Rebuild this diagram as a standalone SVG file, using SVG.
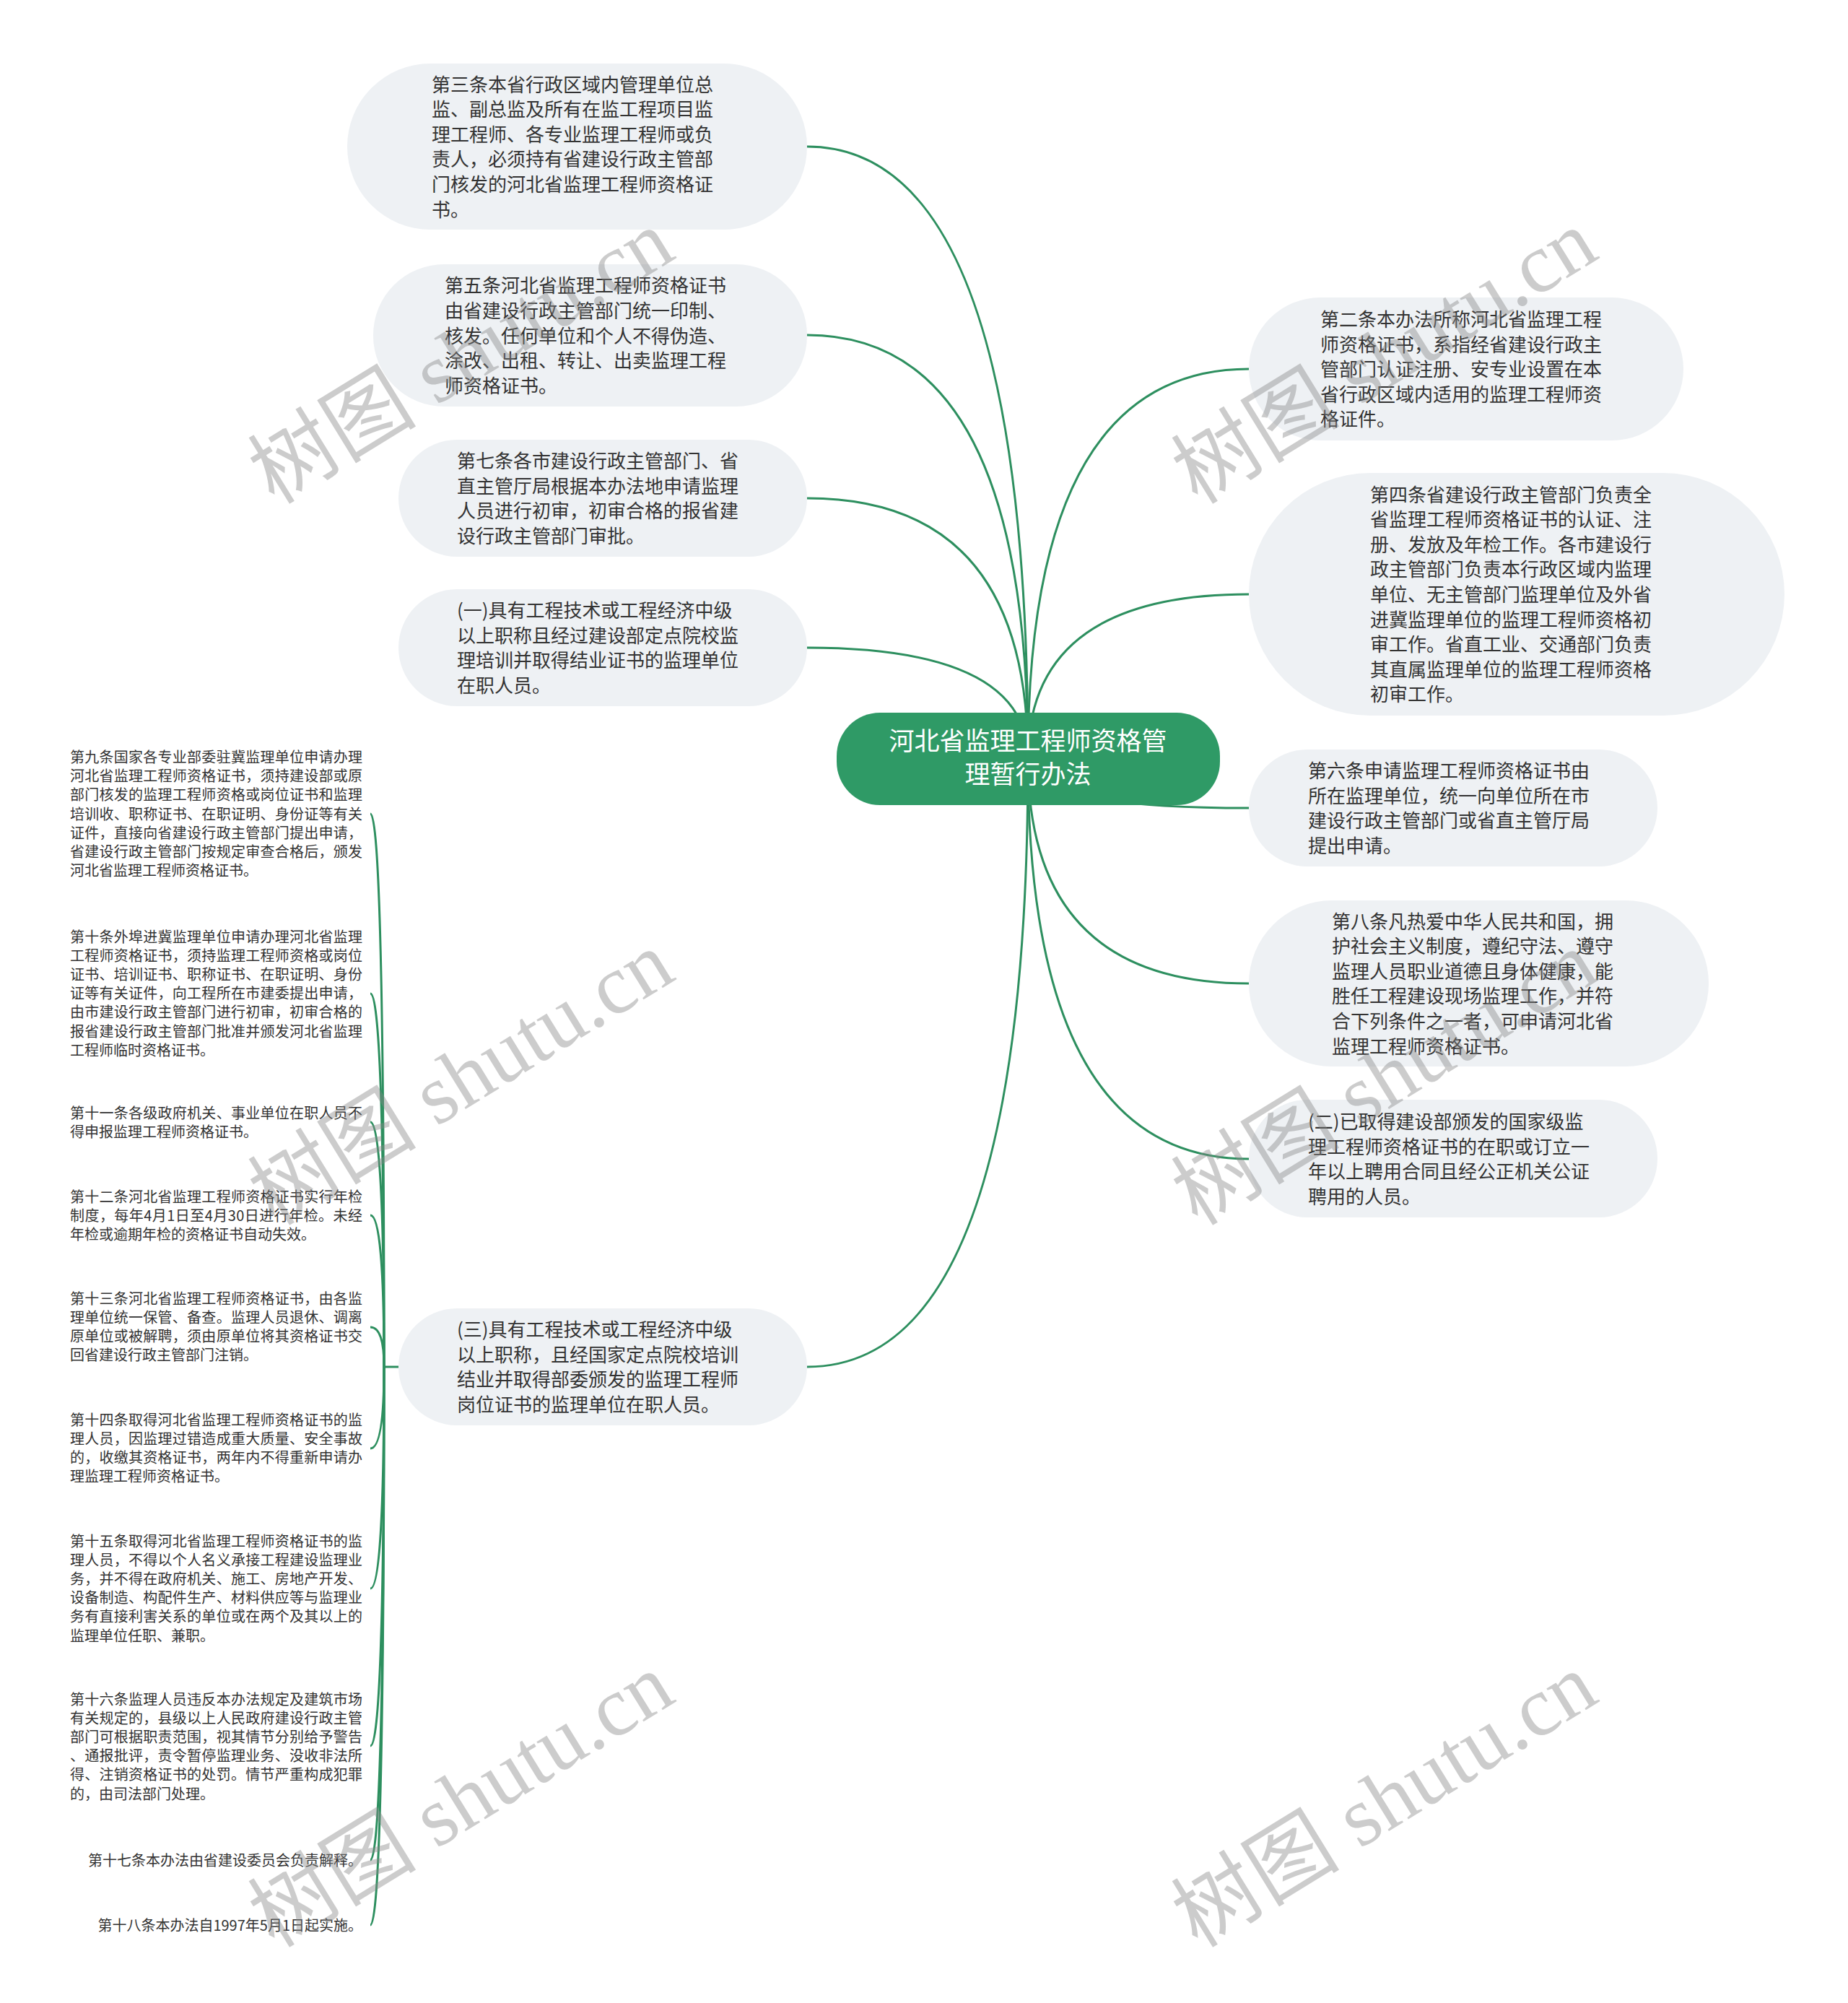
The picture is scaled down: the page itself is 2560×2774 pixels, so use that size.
<svg xmlns="http://www.w3.org/2000/svg" width="2560" height="2774" viewBox="0 0 2560 2774">
<style>
.n{fill:#eef1f4}
.t{font-family:"Noto Sans CJK SC","Liberation Sans",sans-serif;font-size:26px;fill:#333}
.s{font-size:20px}
.c{font-family:"Noto Sans CJK SC","Liberation Sans",sans-serif;font-size:35px;fill:#fff}
.e{fill:none;stroke:#2d8f5f;stroke-width:3}
.w{font-family:"Liberation Serif","Noto Sans CJK SC",serif;font-size:117px;fill:#888;opacity:0.42}
</style>
<rect width="2560" height="2774" fill="#fff"/>
<g id="connectors">
<path class="e" d="M1424 1051 Q1424 203 1118 203"/>
<path class="e" d="M1424 1051 Q1424 464 1118 464"/>
<path class="e" d="M1424 1051 Q1424 690 1118 690"/>
<path class="e" d="M1424 1051 Q1424 897 1118 897"/>
<path class="e" d="M1424 1051 Q1424 1893 1118 1893"/>
<path class="e" d="M1424 1051 Q1424 511 1730 511"/>
<path class="e" d="M1424 1051 Q1424 823 1730 823"/>
<path class="e" d="M1424 1051 Q1424 1119 1730 1119"/>
<path class="e" d="M1424 1051 Q1424 1362 1730 1362"/>
<path class="e" d="M1424 1051 Q1424 1605 1730 1605"/>
<path class="e" d="M552 1893 L532 1893"/>
<path class="e" d="M532 1893 Q532 1127 513 1127"/>
<path class="e" d="M532 1893 Q532 1376 513 1376"/>
<path class="e" d="M532 1893 Q532 1554 513 1554"/>
<path class="e" d="M532 1893 Q532 1683 513 1683"/>
<path class="e" d="M532 1893 Q532 1838 513 1838"/>
<path class="e" d="M532 1893 Q532 2006 513 2006"/>
<path class="e" d="M532 1893 Q532 2200 513 2200"/>
<path class="e" d="M532 1893 Q532 2418 513 2418"/>
<path class="e" d="M532 1893 Q532 2576 513 2576"/>
<path class="e" d="M532 1893 Q532 2666 513 2666"/>
</g>
<g id="root">
<rect x="1159" y="987" width="531" height="128" rx="60" fill="#2f9a66"/>
<text class="c" text-anchor="middle"><tspan x="1424" y="1039">河北省监理工程师资格管</tspan><tspan x="1424" y="1085">理暂行办法</tspan></text>
</g>
<g id="n3">
<rect class="n" x="481" y="88" width="637" height="230" rx="115"/>
<text class="t"><tspan x="598" y="126.5">第三条本省行政区域内管理单位总</tspan><tspan x="598" y="161.1">监、副总监及所有在监工程项目监</tspan><tspan x="598" y="195.7">理工程师、各专业监理工程师或负</tspan><tspan x="598" y="230.3">责人，必须持有省建设行政主管部</tspan><tspan x="598" y="264.9">门核发的河北省监理工程师资格证</tspan><tspan x="598" y="299.5">书。</tspan></text>
</g>
<g id="n5">
<rect class="n" x="517" y="366" width="601" height="197" rx="98"/>
<text class="t"><tspan x="616" y="405.3">第五条河北省监理工程师资格证书</tspan><tspan x="616" y="439.9">由省建设行政主管部门统一印制、</tspan><tspan x="616" y="474.5">核发。任何单位和个人不得伪造、</tspan><tspan x="616" y="509.1">涂改、出租、转让、出卖监理工程</tspan><tspan x="616" y="543.7">师资格证书。</tspan></text>
</g>
<g id="n7">
<rect class="n" x="552" y="609" width="566" height="162" rx="81"/>
<text class="t"><tspan x="633" y="648">第七条各市建设行政主管部门、省</tspan><tspan x="633" y="682.6">直主管厅局根据本办法地申请监理</tspan><tspan x="633" y="717.2">人员进行初审，初审合格的报省建</tspan><tspan x="633" y="751.8">设行政主管部门审批。</tspan></text>
</g>
<g id="c1">
<rect class="n" x="552" y="816" width="566" height="162" rx="81"/>
<text class="t"><tspan x="633" y="855">(一)具有工程技术或工程经济中级</tspan><tspan x="633" y="889.6">以上职称且经过建设部定点院校监</tspan><tspan x="633" y="924.2">理培训并取得结业证书的监理单位</tspan><tspan x="633" y="958.8">在职人员。</tspan></text>
</g>
<g id="c3">
<rect class="n" x="552" y="1812" width="566" height="162" rx="81"/>
<text class="t"><tspan x="633" y="1851">(三)具有工程技术或工程经济中级</tspan><tspan x="633" y="1885.6">以上职称，且经国家定点院校培训</tspan><tspan x="633" y="1920.2">结业并取得部委颁发的监理工程师</tspan><tspan x="633" y="1954.8">岗位证书的监理单位在职人员。</tspan></text>
</g>
<g id="n2">
<rect class="n" x="1730" y="412" width="602" height="198" rx="99"/>
<text class="t"><tspan x="1829" y="452">第二条本办法所称河北省监理工程</tspan><tspan x="1829" y="486.6">师资格证书，系指经省建设行政主</tspan><tspan x="1829" y="521.2">管部门认证注册、安专业设置在本</tspan><tspan x="1829" y="555.8">省行政区域内适用的监理工程师资</tspan><tspan x="1829" y="590.4">格证件。</tspan></text>
</g>
<g id="n4">
<rect class="n" x="1730" y="655" width="742" height="336" rx="168"/>
<text class="t"><tspan x="1898" y="694.6">第四条省建设行政主管部门负责全</tspan><tspan x="1898" y="729.2">省监理工程师资格证书的认证、注</tspan><tspan x="1898" y="763.8">册、发放及年检工作。各市建设行</tspan><tspan x="1898" y="798.4">政主管部门负责本行政区域内监理</tspan><tspan x="1898" y="833">单位、无主管部门监理单位及外省</tspan><tspan x="1898" y="867.6">进冀监理单位的监理工程师资格初</tspan><tspan x="1898" y="902.2">审工作。省直工业、交通部门负责</tspan><tspan x="1898" y="936.8">其直属监理单位的监理工程师资格</tspan><tspan x="1898" y="971.4">初审工作。</tspan></text>
</g>
<g id="n6">
<rect class="n" x="1730" y="1038" width="566" height="162" rx="81"/>
<text class="t"><tspan x="1812" y="1077">第六条申请监理工程师资格证书由</tspan><tspan x="1812" y="1111.6">所在监理单位，统一向单位所在市</tspan><tspan x="1812" y="1146.2">建设行政主管部门或省直主管厅局</tspan><tspan x="1812" y="1180.8">提出申请。</tspan></text>
</g>
<g id="n8">
<rect class="n" x="1730" y="1247" width="637" height="230" rx="115"/>
<text class="t"><tspan x="1845" y="1285.5">第八条凡热爱中华人民共和国，拥</tspan><tspan x="1845" y="1320.1">护社会主义制度，遵纪守法、遵守</tspan><tspan x="1845" y="1354.7">监理人员职业道德且身体健康，能</tspan><tspan x="1845" y="1389.3">胜任工程建设现场监理工作，并符</tspan><tspan x="1845" y="1423.9">合下列条件之一者，可申请河北省</tspan><tspan x="1845" y="1458.5">监理工程师资格证书。</tspan></text>
</g>
<g id="c2">
<rect class="n" x="1730" y="1523" width="566" height="163" rx="81"/>
<text class="t"><tspan x="1812" y="1563">(二)已取得建设部颁发的国家级监</tspan><tspan x="1812" y="1597.6">理工程师资格证书的在职或订立一</tspan><tspan x="1812" y="1632.2">年以上聘用合同且经公正机关公证</tspan><tspan x="1812" y="1666.8">聘用的人员。</tspan></text>
</g>
<g id="a9">
<text class="t s"><tspan x="97" y="1055.6" textLength="405" lengthAdjust="spacing">第九条国家各专业部委驻冀监理单位申请办理</tspan><tspan x="97" y="1081.9" textLength="405" lengthAdjust="spacing">河北省监理工程师资格证书，须持建设部或原</tspan><tspan x="97" y="1108.2" textLength="405" lengthAdjust="spacing">部门核发的监理工程师资格或岗位证书和监理</tspan><tspan x="97" y="1134.5" textLength="405" lengthAdjust="spacing">培训收、职称证书、在职证明、身份证等有关</tspan><tspan x="97" y="1160.8" textLength="405" lengthAdjust="spacing">证件，直接向省建设行政主管部门提出申请，</tspan><tspan x="97" y="1187.1" textLength="405" lengthAdjust="spacing">省建设行政主管部门按规定审查合格后，颁发</tspan><tspan x="97" y="1213.4">河北省监理工程师资格证书。</tspan></text>
</g>
<g id="a10">
<text class="t s"><tspan x="97" y="1304.6" textLength="405" lengthAdjust="spacing">第十条外埠进冀监理单位申请办理河北省监理</tspan><tspan x="97" y="1330.8" textLength="405" lengthAdjust="spacing">工程师资格证书，须持监理工程师资格或岗位</tspan><tspan x="97" y="1357" textLength="405" lengthAdjust="spacing">证书、培训证书、职称证书、在职证明、身份</tspan><tspan x="97" y="1383.2" textLength="405" lengthAdjust="spacing">证等有关证件，向工程所在市建委提出申请，</tspan><tspan x="97" y="1409.4" textLength="405" lengthAdjust="spacing">由市建设行政主管部门进行初审，初审合格的</tspan><tspan x="97" y="1435.6" textLength="405" lengthAdjust="spacing">报省建设行政主管部门批准并颁发河北省监理</tspan><tspan x="97" y="1461.8">工程师临时资格证书。</tspan></text>
</g>
<g id="a11">
<text class="t s"><tspan x="97" y="1548.6" textLength="405" lengthAdjust="spacing">第十一条各级政府机关、事业单位在职人员不</tspan><tspan x="97" y="1574.8">得申报监理工程师资格证书。</tspan></text>
</g>
<g id="a12">
<text class="t s"><tspan x="97" y="1664.6" textLength="405" lengthAdjust="spacing">第十二条河北省监理工程师资格证书实行年检</tspan><tspan x="97" y="1690.8" textLength="405" lengthAdjust="spacing">制度，每年4月1日至4月30日进行年检。未经</tspan><tspan x="97" y="1717">年检或逾期年检的资格证书自动失效。</tspan></text>
</g>
<g id="a13">
<text class="t s"><tspan x="97" y="1805.6" textLength="405" lengthAdjust="spacing">第十三条河北省监理工程师资格证书，由各监</tspan><tspan x="97" y="1831.8" textLength="405" lengthAdjust="spacing">理单位统一保管、备查。监理人员退休、调离</tspan><tspan x="97" y="1858" textLength="405" lengthAdjust="spacing">原单位或被解聘，须由原单位将其资格证书交</tspan><tspan x="97" y="1884.2">回省建设行政主管部门注销。</tspan></text>
</g>
<g id="a14">
<text class="t s"><tspan x="97" y="1973.6" textLength="405" lengthAdjust="spacing">第十四条取得河北省监理工程师资格证书的监</tspan><tspan x="97" y="1999.8" textLength="405" lengthAdjust="spacing">理人员，因监理过错造成重大质量、安全事故</tspan><tspan x="97" y="2026" textLength="405" lengthAdjust="spacing">的，收缴其资格证书，两年内不得重新申请办</tspan><tspan x="97" y="2052.2">理监理工程师资格证书。</tspan></text>
</g>
<g id="a15">
<text class="t s"><tspan x="97" y="2141.6" textLength="405" lengthAdjust="spacing">第十五条取得河北省监理工程师资格证书的监</tspan><tspan x="97" y="2167.8" textLength="405" lengthAdjust="spacing">理人员，不得以个人名义承接工程建设监理业</tspan><tspan x="97" y="2194" textLength="405" lengthAdjust="spacing">务，并不得在政府机关、施工、房地产开发、</tspan><tspan x="97" y="2220.2" textLength="405" lengthAdjust="spacing">设备制造、构配件生产、材料供应等与监理业</tspan><tspan x="97" y="2246.4" textLength="405" lengthAdjust="spacing">务有直接利害关系的单位或在两个及其以上的</tspan><tspan x="97" y="2272.6">监理单位任职、兼职。</tspan></text>
</g>
<g id="a16">
<text class="t s"><tspan x="97" y="2360.6" textLength="405" lengthAdjust="spacing">第十六条监理人员违反本办法规定及建筑市场</tspan><tspan x="97" y="2386.8" textLength="405" lengthAdjust="spacing">有关规定的，县级以上人民政府建设行政主管</tspan><tspan x="97" y="2413" textLength="405" lengthAdjust="spacing">部门可根据职责范围，视其情节分别给予警告</tspan><tspan x="97" y="2439.2" textLength="405" lengthAdjust="spacing">、通报批评，责令暂停监理业务、没收非法所</tspan><tspan x="97" y="2465.4" textLength="405" lengthAdjust="spacing">得、注销资格证书的处罚。情节严重构成犯罪</tspan><tspan x="97" y="2491.6">的，由司法部门处理。</tspan></text>
</g>
<g id="a17">
<text class="t s" x="502" y="2583.6" text-anchor="end">第十七条本办法由省建设委员会负责解释。</text>
</g>
<g id="a18">
<text class="t s" x="502" y="2673.6" text-anchor="end">第十八条本办法自1997年5月1日起实施。</text>
</g>
<g id="watermarks">
<text class="w" transform="translate(380 700) rotate(-31.6)">树图 shutu.cn</text>
<text class="w" transform="translate(1659 700) rotate(-31.6)">树图 shutu.cn</text>
<text class="w" transform="translate(380 1699) rotate(-31.6)">树图 shutu.cn</text>
<text class="w" transform="translate(1659 1699) rotate(-31.6)">树图 shutu.cn</text>
<text class="w" transform="translate(380 2699) rotate(-31.6)">树图 shutu.cn</text>
<text class="w" transform="translate(1659 2699) rotate(-31.6)">树图 shutu.cn</text>
</g>
</svg>
